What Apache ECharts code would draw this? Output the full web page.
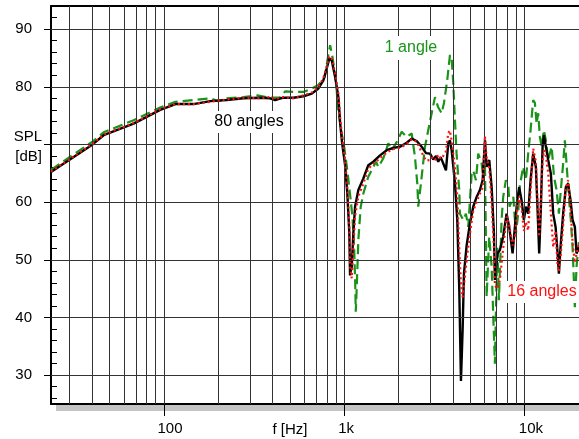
<!DOCTYPE html>
<html>
<head>
<meta charset="utf-8">
<script src="https://cdn.jsdelivr.net/npm/echarts@6/dist/echarts.min.js"></script>
<style>
html,body{margin:0;padding:0;background:#fff;}
#chart{width:579px;height:439px;}
</style>
</head>
<body>
<div id="chart"></div>
<script>
// ---- data ----
const freq80 = [23.7, 40.3, 46.4, 68, 95.5, 116, 146, 181, 223, 276, 342, 388, 414, 460, 523, 594, 661, 719, 766, 800, 827, 852, 890, 928, 950, 975, 1010, 1040, 1067, 1077, 1100, 1123, 1148, 1197, 1276, 1359, 1449, 1579, 1719, 1870, 2037, 2219, 2365, 2520, 2686, 2838, 2987, 3115, 3224, 3319, 3422, 3538, 3662, 3771, 3853, 3938, 4108, 4230, 4339, 4434, 4531, 4607, 4768, 4973, 5186, 5417, 5649, 5848, 6022, 6154, 6362, 6559, 6755, 6839, 7077, 7288, 7601, 7938, 8206, 8570, 8826, 9090, 9323, 9613, 9899, 10153, 10456, 10782, 11146, 11535, 11788, 12034, 12297, 12566, 12777, 13107, 13497, 13971, 14387, 14834, 15218, 15473, 15804, 16337, 16908, 17414, 17959, 18426, 18967, 19381, 20000];
const spl80 = [65.2, 70.0, 71.6, 73.6, 76.0, 77.0, 77.0, 77.5, 77.7, 78.0, 78.1, 78.0, 77.7, 78.1, 78.1, 78.35, 78.8, 79.7, 81.1, 83.2, 84.9, 84.6, 81.7, 78.2, 73.5, 70.0, 66.5, 61.5, 54.6, 47.3, 48.8, 54.6, 59.2, 62.1, 64.1, 66.4, 67.0, 68.1, 69.0, 69.4, 69.6, 70.3, 71.0, 70.6, 69.6, 68.5, 68.4, 67.4, 68.0, 67.0, 67.8, 66.7, 65.5, 70.2, 70.7, 69.0, 63.2, 57.0, 45.0, 29.0, 38.0, 47.6, 52.5, 56.3, 59.2, 60.9, 62.1, 63.8, 70.7, 66.1, 67.3, 62.6, 54.6, 46.5, 51.1, 51.7, 54.0, 58.0, 55.7, 51.1, 55.7, 60.3, 62.6, 60.3, 56.9, 59.2, 58.0, 63.8, 68.4, 66.1, 58.6, 51.1, 59.2, 69.6, 71.6, 69.6, 67.3, 64.9, 58.0, 55.7, 51.1, 47.6, 52.2, 58.0, 62.6, 63.2, 60.3, 56.9, 55.7, 51.1, 52.2];

const freq16 = freq80;
const spl16 = [65.3, 70.1, 71.7, 73.7, 76.1, 77.0, 77.0, 77.4, 77.8, 78.1, 78.0, 78.2, 77.9, 78.2, 78.0, 78.5, 79.0, 80.0, 81.5, 83.6, 85.3, 85.0, 82.3, 78.8, 74.5, 71.0, 67.5, 62.5, 56.0, 49.0, 46.8, 52.0, 57.5, 61.0, 63.2, 65.8, 66.6, 67.6, 68.6, 69.2, 69.4, 70.1, 70.9, 70.5, 68.6, 67.2, 67.3, 67.9, 67.3, 68.2, 67.5, 68.0, 68.8, 72.0, 72.4, 70.5, 66.0, 61.0, 52.0, 46.0, 43.5, 45.5, 50.0, 54.5, 58.5, 60.0, 61.5, 62.5, 71.5, 67.6, 66.0, 60.0, 52.0, 45.5, 45.0, 46.5, 52.0, 57.5, 56.0, 52.5, 54.0, 58.5, 61.0, 59.0, 55.0, 56.5, 55.1, 62.0, 69.3, 67.0, 60.0, 54.0, 60.0, 67.0, 69.0, 68.0, 65.0, 58.0, 52.2, 55.0, 49.0, 48.0, 50.5, 56.0, 62.5, 63.8, 59.0, 53.0, 49.5, 51.0, 53.0];

const freq1 = [23.7, 40.3, 46.4, 68, 95.5, 116, 146, 181, 200, 223, 276, 330, 388, 440, 470, 523, 594, 661, 719, 780, 810, 835, 860, 900, 922, 960, 1000, 1040, 1080, 1110, 1135, 1150, 1158, 1173, 1197, 1234, 1276, 1359, 1449, 1500, 1545, 1647, 1755, 1832, 1953, 2082, 2219, 2365, 2466, 2540, 2572, 2686, 2802, 2922, 3051, 3183, 3310, 3467, 3570, 3720, 3853, 3938, 4020, 4108, 4193, 4339, 4376, 4564, 4724, 4866, 5082, 5186, 5369, 5528, 5773, 5885, 6022, 6154, 6362, 6559, 6700, 6839, 6925, 7050, 7200, 7450, 7601, 7866, 8124, 8244, 8647, 8940, 9206, 9372, 9805, 10153, 10456, 10782, 11146, 11390, 11640, 11880, 12140, 12430, 12777, 13107, 13497, 14110, 14540, 15020, 15473, 15860, 16337, 16700, 17060, 17570, 18020, 18426, 18730, 18967, 19381, 20000];
const spl1 = [65.6, 70.5, 72.1, 74.2, 76.4, 77.4, 77.7, 78.0, 77.5, 78.0, 78.2, 78.5, 78.1, 78.1, 79.2, 79.1, 79.1, 79.7, 80.3, 81.7, 84.9, 87.2, 85.2, 81.1, 76.5, 72.5, 69.5, 65.5, 61.0, 57.5, 52.0, 46.0, 41.0, 45.3, 53.4, 59.2, 61.5, 64.4, 66.1, 67.0, 66.1, 67.6, 70.2, 69.0, 70.4, 72.2, 71.3, 71.9, 67.8, 63.2, 59.2, 64.4, 69.6, 72.5, 75.4, 78.2, 76.5, 75.4, 77.2, 81.1, 85.5, 84.9, 80.6, 74.2, 68.4, 62.1, 58.0, 56.9, 58.0, 55.7, 64.9, 65.5, 63.8, 68.4, 66.7, 64.4, 66.7, 43.6, 54.0, 48.8, 40.0, 32.0, 40.7, 52.2, 43.0, 57.0, 60.9, 63.8, 62.6, 59.2, 60.9, 54.6, 58.0, 62.6, 66.1, 63.8, 68.4, 72.5, 77.7, 77.2, 73.6, 75.4, 71.3, 69.6, 72.5, 70.7, 67.3, 69.6, 64.4, 62.1, 58.0, 62.1, 66.7, 70.7, 66.7, 60.9, 56.9, 52.2, 46.5, 41.8, 48.8, 53.4];

const xGridVals = [30,40,50,60,70,80,90,100,200,300,400,500,600,700,800,900,1000,2000,3000,4000,5000,6000,7000,8000,9000,10000,20000];
const yGridVals = [30,40,50,60,70,80,90];
const yLabelVals = [30,40,50,60,80,90];
const yMinorVals = [26,28,32,34,36,38,42,44,46,48,52,54,56,58,62,64,66,68,72,74,76,78,82,84,86,88,92];
const xTickVals = [100,1000,10000];
const xTickText = ['100','1k','10k'];
const xMin = 23.7, xMax = 20000, yMin = 25, yMax = 94;

const FONT = "'Liberation Sans', Arial, Helvetica, sans-serif";
const pairs = (f, v) => f.map((x, i) => [x, v[i]]);

const chart = echarts.init(document.getElementById('chart'), null, {renderer: 'canvas'});
chart.setOption({
  animation: false,
  backgroundColor: '#fff',
  textStyle: {fontFamily: FONT},
  grid: {left: 51, right: 0, top: 6, bottom: 35, containLabel: false, outerBoundsMode: 'none'},
  xAxis: [{
    type: 'log', logBase: 10, min: xMin, max: xMax, z: 3,
    axisLine: {show: true, lineStyle: {color: '#000', width: 2}},
    axisTick: {show: true, length: 12, customValues: xTickVals, lineStyle: {color: '#000', width: 1}},
    splitLine: {show: false},
    axisLabel: {
      show: true, margin: 17, color: '#000', fontSize: 15, fontFamily: FONT,
      showMinLabel: true, showMaxLabel: true, hideOverlap: false,
      formatter: function (v) {
        const e = Math.log10(v);
        for (let i = 0; i < xTickVals.length; i++) {
          if (Math.abs(e - Math.log10(xTickVals[i])) < 0.001) {
            const t = xTickText[i];
            return (t.length === 2 ? '{p4| }' : '{p12| }') + '{t|' + t + '}';
          }
        }
        return '';
      },
      rich: {
        t: {fontSize: 15, fontFamily: FONT, color: '#000'},
        p12: {width: 12.4},
        p4: {width: 3.8}
      }
    }
  }, {
    type: 'log', logBase: 10, min: xMin, max: xMax, position: 'top', z: 3,
    axisLine: {show: true, lineStyle: {color: '#000', width: 2}},
    axisTick: {show: false}, axisLabel: {show: false}, splitLine: {show: false}
  }],
  yAxis: [{
    type: 'value', min: yMin, max: yMax, z: 3,
    axisLine: {show: true, lineStyle: {color: '#000', width: 2}},
    axisTick: {show: true, length: 7, customValues: yGridVals, lineStyle: {color: '#000', width: 1}},
    axisLabel: {show: true, customValues: yLabelVals, margin: 19, color: '#000', fontSize: 15, fontFamily: FONT},
    splitLine: {show: false}
  }, {
    type: 'value', min: yMin, max: yMax, position: 'left', offset: 0, z: 3,
    axisLine: {show: false},
    axisTick: {show: true, inside: true, length: 6, customValues: yMinorVals, lineStyle: {color: '#000', width: 1}},
    axisLabel: {show: false},
    splitLine: {show: false}
  }],
  series: [{
    name: 'grid', type: 'line', data: [], z: 1, silent: true,
    markLine: {
      silent: true, symbol: ['none', 'none'], animation: false,
      label: {show: false},
      lineStyle: {color: '#333', width: 1, type: 'solid'},
      emphasis: {disabled: true},
      data: xGridVals.map(v => ({xAxis: v})).concat(yGridVals.map(v => ({yAxis: v})))
    }
  }, {
    name: '1 angle', type: 'line', z: 3, showSymbol: false, symbol: 'none',
    data: pairs(freq1, spl1),
    lineStyle: {color: '#199419', width: 2.2, type: [10, 5]}
  }, {
    name: '80 angles', type: 'line', z: 4, showSymbol: false, symbol: 'none',
    data: pairs(freq80, spl80),
    lineStyle: {color: '#000', width: 2.4, type: 'solid'}
  }, {
    name: '16 angles', type: 'line', z: 5, showSymbol: false, symbol: 'none',
    data: pairs(freq16, spl16),
    lineStyle: {color: '#ff1010', width: 2.2, type: [2, 3]}
  }],
  graphic: [
    {type: 'rect', z: 0, shape: {x: 56, y: 405, width: 530, height: 6}, style: {fill: '#c4c4c4'}},
    {type: 'text', z: 100, x: 290, y: 430, style: {text: 'f [Hz]', font: '15px ' + FONT, fill: '#000', align: 'center', verticalAlign: 'middle'}},
    {type: 'text', z: 100, x: 42, y: 127, style: {text: 'SPL\n[dB]', font: '15px ' + FONT, fill: '#000', align: 'right', verticalAlign: 'top', lineHeight: 20}},
    {type: 'text', z: 100, x: 249, y: 122, style: {text: '80 angles', font: '16px ' + FONT, fill: '#000', align: 'center', verticalAlign: 'middle', backgroundColor: '#fff', padding: [3, 4]}},
    {type: 'text', z: 100, x: 411, y: 48, style: {text: '1 angle', font: '16px ' + FONT, fill: '#199419', align: 'center', verticalAlign: 'middle', backgroundColor: '#fff', padding: [4, 4]}},
    {type: 'text', z: 100, x: 542, y: 292, style: {text: '16 angles', font: '16px ' + FONT, fill: '#ff1010', align: 'center', verticalAlign: 'middle', backgroundColor: '#fff', padding: [3, 3]}}
  ]
});
</script>
</body>
</html>
